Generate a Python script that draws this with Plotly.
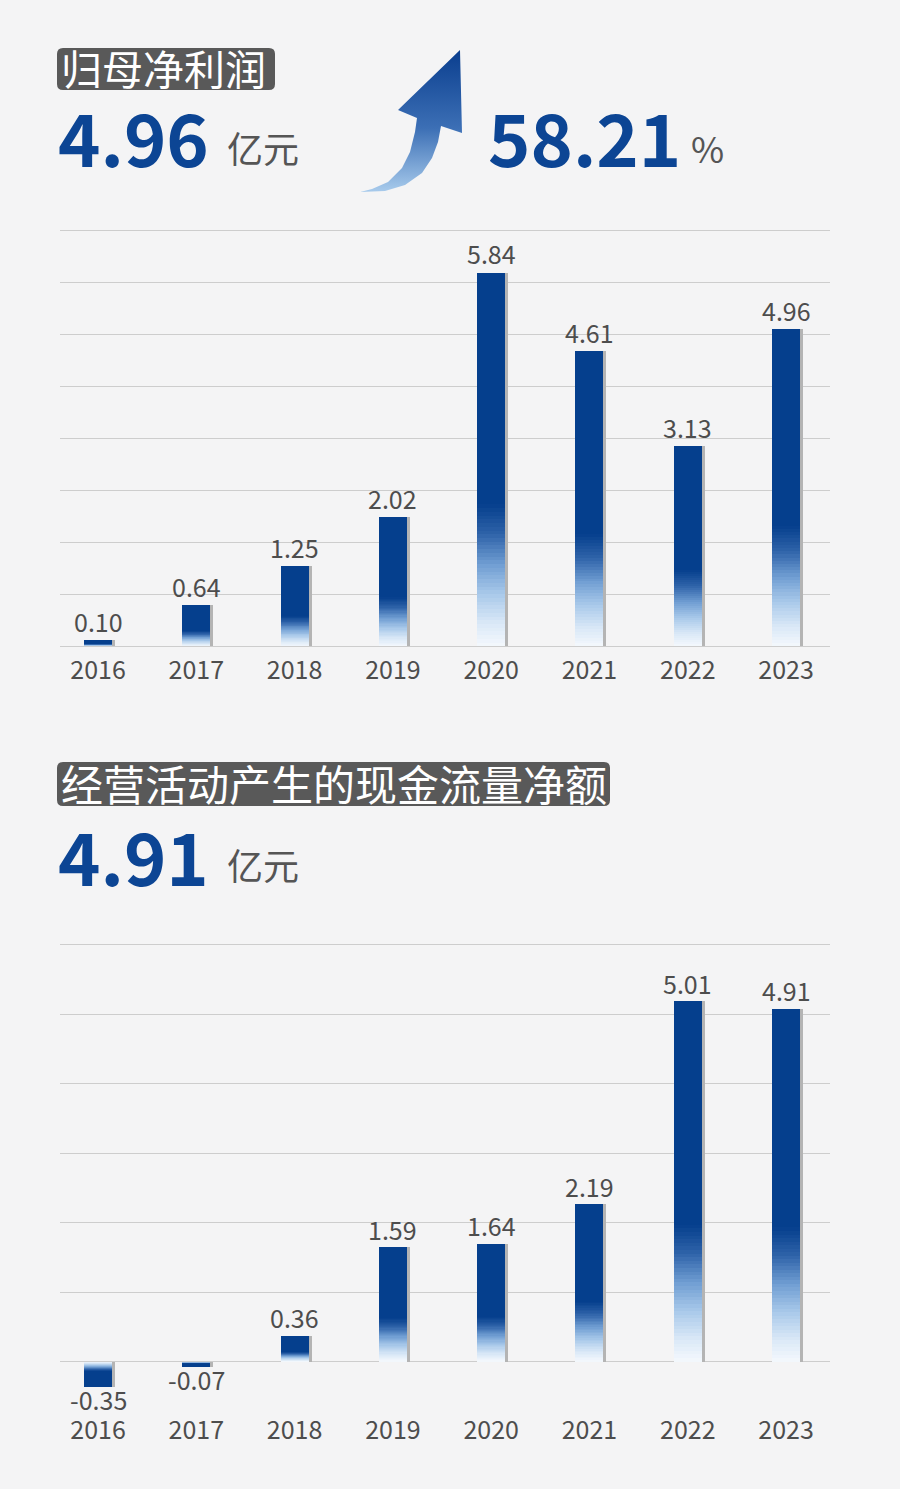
import plotly.graph_objects as go

# ---------------- data ----------------
years = ["2016", "2017", "2018", "2019", "2020", "2021", "2022", "2023"]
net_profit = [0.10, 0.64, 1.25, 2.02, 5.84, 4.61, 3.13, 4.96]
op_cashflow = [-0.35, -0.07, 0.36, 1.59, 1.64, 2.19, 5.01, 4.91]

title1 = "归母净利润"
title2 = "经营活动产生的现金流量净额"
headline1 = "4.96"
headline2 = "4.91"
growth = "58.21"
unit = "亿元"

# ---------------- styling ----------------
W, H = 900, 1489
BG = "#f4f4f5"
DARK = "#053f8d"
NUM_BLUE = "#0c4594"
TXT = "#4d4d4d"
GRID = "#cdcdcd"
FONT = "Noto Sans CJK SC"

GRAD = [(0.00, (244, 248, 253)), (0.06, (219, 233, 247)), (0.14, (169, 201, 234)),
        (0.22, (111, 157, 210)), (0.30, (47, 99, 169)), (0.38, (5, 63, 141))]
GTOP = 0.38


def interp(f):
    if f >= GTOP:
        return DARK
    for (f0, c0), (f1, c1) in zip(GRAD[:-1], GRAD[1:]):
        if f0 <= f <= f1:
            t = (f - f0) / (f1 - f0)
            c = [round(a + (b - a) * t) for a, b in zip(c0, c1)]
            return "rgb({},{},{})".format(*c)
    return DARK


def px(x):
    return x / W


def py(y):
    return 1 - y / H


fig = go.Figure()

BW = 0.285
SH = 3 / 98.3


def add_bars(vals, xa, ya):
    fig.add_trace(go.Bar(x=years, y=vals, base=[0] * len(vals), width=BW, offset=-BW / 2 + SH,
                         marker=dict(color="#b4b4b4", line=dict(width=0)),
                         xaxis=xa, yaxis=ya, hoverinfo="skip", showlegend=False))
    N = 38
    for k in range(N):
        f = GTOP * k / N
        c = interp(f + GTOP / (2 * N))
        fig.add_trace(go.Bar(x=years, base=[v * f for v in vals], y=[v * (1 - f) for v in vals],
                             width=BW, offset=-BW / 2,
                             marker=dict(color=c, line=dict(width=0)),
                             xaxis=xa, yaxis=ya, hoverinfo="skip", showlegend=False))
    fig.add_trace(go.Bar(x=years, base=[v * GTOP for v in vals], y=[v * (1 - GTOP) for v in vals],
                         width=BW, offset=-BW / 2,
                         marker=dict(color=DARK, line=dict(width=0)),
                         xaxis=xa, yaxis=ya, hoverinfo="skip", showlegend=False))
    # value labels at each bar's end (category index on x, value on y)
    for i, v in enumerate(vals):
        fig.add_annotation(x=i, y=v, xref=xa, yref=ya, text=f"{v:.2f}", showarrow=False,
                           yanchor="bottom" if v >= 0 else "top",
                           yshift=0 if v >= 0 else 7, borderpad=0,
                           font=dict(family=FONT, size=25, color=TXT))


add_bars(net_profit, "x", "y")
add_bars(op_cashflow, "x2", "y2")

# decorative arrow (pixel-space overlay axis)
arrow_x = [360, 372, 388, 402, 410, 415, 417, 398, 460, 462, 441, 438, 432, 422, 405, 385, 360]
arrow_y = [192, 189, 182, 168, 152, 132, 118, 110, 50, 133, 126, 142, 158, 173, 185, 191, 192]
fig.add_trace(go.Scatter(x=arrow_x, y=arrow_y, mode="lines", fill="toself",
                         line=dict(width=0, color="rgba(0,0,0,0)"),
                         fillgradient=dict(type="vertical", start=192, stop=50,
                                           colorscale=[[0, "#a8cbec"], [0.45, "#3c6fb5"], [1, "#0a3e8e"]]),
                         xaxis="x3", yaxis="y3", hoverinfo="skip", showlegend=False))

# ---------------- axes ----------------
s1 = 64.0
r1 = [-0.03, 6.6]
dom1 = [py(646 + (0 - r1[0]) * s1), py(646 - r1[1] * s1)]
s2 = 417 / 5.8
r2 = [-0.5, 5.85]
dom2 = [py(1362 + (0 - r2[0]) * s2), py(1362 - r2[1] * s2)]

xcommon = dict(type="category", range=[-0.387, 7.447], domain=[px(60), px(830)],
               showgrid=False, zeroline=False, showline=False, ticks="",
               tickfont=dict(family=FONT, size=25, color=TXT), fixedrange=True)
ycommon = dict(showticklabels=False, ticks="", showgrid=True, gridcolor=GRID, gridwidth=1,
               zeroline=True, zerolinecolor=GRID, zerolinewidth=1, showline=False,
               tick0=0, fixedrange=True)

fig.update_layout(
    width=W, height=H,
    margin=dict(l=0, r=0, t=0, b=0),
    paper_bgcolor=BG, plot_bgcolor="rgba(0,0,0,0)",
    barmode="overlay", bargap=0,
    showlegend=False,
    xaxis=dict(**xcommon, anchor="y", ticklabelstandoff=5),
    yaxis=dict(**ycommon, anchor="x", domain=dom1, range=r1, dtick=6.5 / 8),
    xaxis2=dict(**xcommon, anchor="y2", ticklabelstandoff=15),
    yaxis2=dict(**ycommon, anchor="x2", domain=dom2, range=r2, dtick=5.8 / 6),
    xaxis3=dict(domain=[0, 1], range=[0, W], visible=False, anchor="y3", fixedrange=True),
    yaxis3=dict(domain=[0, 1], range=[H, 0], visible=False, anchor="x3", fixedrange=True),
)


# ---------------- header decorations ----------------
def rrect(x0, y0, x1, y1, r=6):
    X0, X1, Yb, Yt = px(x0), px(x1), py(y1), py(y0)
    rx, ry = r / W, r / H
    return (f"M {X0+rx},{Yt} L {X1-rx},{Yt} Q {X1},{Yt} {X1},{Yt-ry} L {X1},{Yb+ry} "
            f"Q {X1},{Yb} {X1-rx},{Yb} L {X0+rx},{Yb} Q {X0},{Yb} {X0},{Yb+ry} "
            f"L {X0},{Yt-ry} Q {X0},{Yt} {X0+rx},{Yt} Z")


fig.add_shape(type="path", path=rrect(57, 48, 275, 90), xref="paper", yref="paper",
              fillcolor="#595959", line=dict(width=0), layer="below")
fig.add_shape(type="path", path=rrect(57, 762, 610, 806), xref="paper", yref="paper",
              fillcolor="#595959", line=dict(width=0), layer="below")


def ann(text, x, y, size, color, bold=False, anchor="left"):
    fig.add_annotation(text=f"<b>{text}</b>" if bold else text, x=px(x), y=py(y),
                       xref="paper", yref="paper", xanchor=anchor, yanchor="middle",
                       showarrow=False, borderpad=0,
                       font=dict(family=FONT, size=size, color=color))


ann(title1, 60, 67, 41, "#ffffff")
ann(title2, 60, 782, 42, "#ffffff")
ann(headline1, 57, 136, 72, NUM_BLUE, bold=True)
ann(unit, 226, 147, 36, "#555555")
ann(growth, 487, 136, 72, NUM_BLUE, bold=True)
ann("%", 690, 147, 36, "#555555")
ann(headline2, 57, 854, 72, NUM_BLUE, bold=True)
ann(unit, 226, 864, 36, "#555555")

fig.write_html("out.html")
